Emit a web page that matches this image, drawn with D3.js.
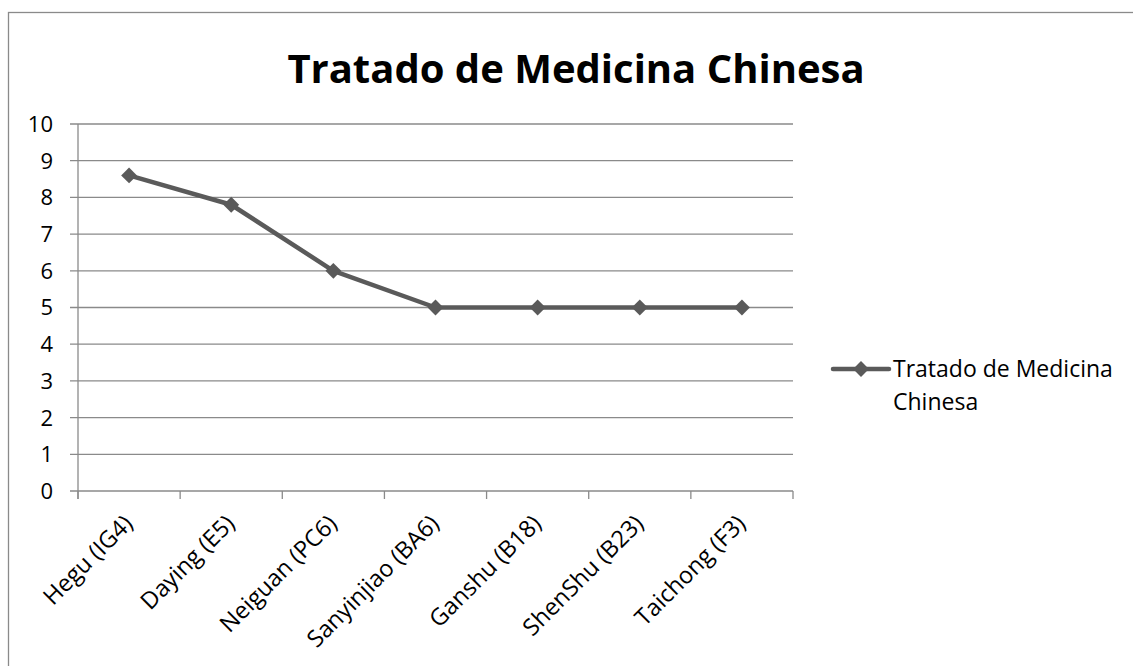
<!DOCTYPE html>
<html lang="pt">
<head>
    <meta charset="UTF-8">
    <title>Tratado de Medicina Chinesa</title>
    <script src="https://d3js.org/d3.v7.min.js"></script>
    <style>
        body { margin: 0; background: #fff; }
        text { font-family: "Open Sans", "Liberation Sans", sans-serif; fill: #000; }
        .grid line { stroke: #8a8a8a; stroke-width: 1.3; }
    </style>
</head>
<body>
    <div id="chart"></div>
    <script>
        const title = "Tratado de Medicina Chinesa";
        const categories = ["Hegu (IG4)", "Daying (E5)", "Neiguan (PC6)", "Sanyinjiao (BA6)", "Ganshu (B18)", "ShenShu (B23)", "Taichong (F3)"];
        const values = [8.6, 7.8, 6, 5, 5, 5, 5];
        const yTicks = [0, 1, 2, 3, 4, 5, 6, 7, 8, 9, 10];

        const width = 1133, height = 666;
        const plot = { left: 78, right: 793, top: 124, bottom: 491 };

        const svg = d3.select("#chart").append("svg")
            .attr("width", width)
            .attr("height", height);

        // outer chart border (runs off the right and bottom)
        svg.append("rect")
            .attr("x", 8.5).attr("y", 12.5)
            .attr("width", 1140).attr("height", 700)
            .attr("fill", "none")
            .attr("stroke", "#8a8a8a")
            .attr("stroke-width", 1.3);

        svg.append("text")
            .attr("x", 576).attr("y", 83)
            .attr("text-anchor", "middle")
            .attr("font-size", 40)
            .attr("font-weight", "bold")
            .text(title);

        const x = d3.scaleBand().domain(categories).range([plot.left, plot.right]);
        const y = d3.scaleLinear().domain([0, 10]).range([plot.bottom, plot.top]);

        // horizontal gridlines with ticks to the left
        const grid = svg.append("g").attr("class", "grid");
        grid.selectAll("line")
            .data(yTicks)
            .join("line")
            .attr("x1", plot.left - 8)
            .attr("x2", plot.right)
            .attr("y1", d => y(d))
            .attr("y2", d => y(d));

        // y axis line
        grid.append("line")
            .attr("x1", plot.left).attr("x2", plot.left)
            .attr("y1", plot.top).attr("y2", plot.bottom + 8);

        // x axis category boundary ticks
        const bounds = categories.map(c => x(c)).concat([plot.right]);
        grid.selectAll(".xt")
            .data(bounds)
            .join("line")
            .attr("class", "xt")
            .attr("x1", d => d).attr("x2", d => d)
            .attr("y1", plot.bottom).attr("y2", plot.bottom + 8);

        svg.append("g").selectAll("text")
            .data(yTicks)
            .join("text")
            .attr("x", plot.left - 25)
            .attr("y", d => y(d))
            .attr("dy", "0.36em")
            .attr("text-anchor", "end")
            .attr("font-size", 22)
            .text(d => d);

        svg.append("g").selectAll("text")
            .data(categories)
            .join("text")
            .attr("transform", d => `translate(${x(d) + x.bandwidth() / 2 + 5},${plot.bottom + 34}) rotate(-45)`)
            .attr("text-anchor", "end")
            .attr("font-size", 23.5)
            .text(d => d);

        const cx = d => x(d) + x.bandwidth() / 2;
        const lineColor = "#5a5a5a";
        const diamond = d3.symbol().type(d3.symbolDiamond2).size(160);

        svg.append("path")
            .datum(values)
            .attr("fill", "none")
            .attr("stroke", lineColor)
            .attr("stroke-width", 4.5)
            .attr("stroke-linejoin", "round")
            .attr("d", d3.line().x((d, i) => cx(categories[i])).y(d => y(d)));

        svg.append("g").selectAll("path")
            .data(values)
            .join("path")
            .attr("transform", (d, i) => `translate(${cx(categories[i])},${y(d)})`)
            .attr("d", diamond)
            .attr("fill", lineColor);

        // legend
        const lg = svg.append("g").attr("transform", "translate(833,369)");
        lg.append("line")
            .attr("x1", 0).attr("x2", 56)
            .attr("stroke", lineColor)
            .attr("stroke-width", 4.5)
            .attr("stroke-linecap", "round");
        lg.append("path").attr("transform", "translate(28,0)").attr("d", diamond).attr("fill", lineColor);
        lg.append("text")
            .attr("x", 60).attr("y", 8)
            .attr("font-size", 23)
            .text("Tratado de Medicina");
        lg.append("text")
            .attr("x", 60).attr("y", 41)
            .attr("font-size", 23)
            .text("Chinesa");
    </script>
</body>
</html>
